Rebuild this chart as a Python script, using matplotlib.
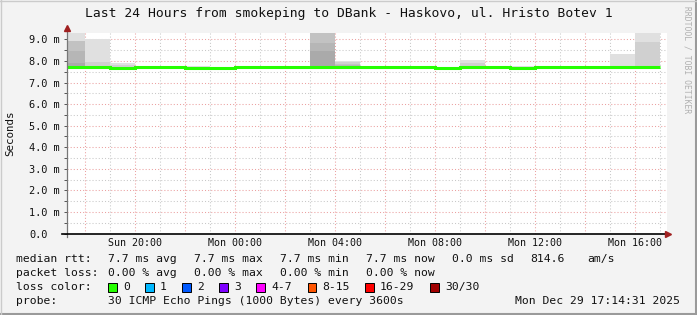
import numpy as np
import matplotlib.pyplot as plt
from matplotlib.patches import Rectangle
from matplotlib.lines import Line2D
from matplotlib.ticker import FixedLocator, FuncFormatter

W, H = 697, 315
MONO = 'DejaVu Sans Mono'
BG = '#f3f3f3'

# time axis: hours since Sun 00:00, graph covers Sun 17:14:31 .. Mon 17:14:31
t_start = 17 + 14 / 60 + 31 / 3600
t_end = t_start + 24
bin_edges = np.arange(17, 42)          # hourly steps (3600s)
label_hours = [20, 24, 28, 32, 36, 40]

# median rtt per hourly bin (ms)
median = [7.72, 7.72, 7.69, 7.72, 7.72, 7.66, 7.69, 7.72, 7.72, 7.73, 7.73, 7.70,
          7.72, 7.72, 7.72, 7.68, 7.72, 7.72, 7.67, 7.71, 7.71, 7.71, 7.71, 7.71]
# smoke envelopes, outermost (lightest) to innermost (darkest), ms
smoke_1 = [9.31, 9.00, 7.92, 7.76, 7.76, 7.75, 7.74, 7.75, 7.75, 7.76, 9.31, 7.98,
           7.75, 7.75, 7.75, 7.74, 8.06, 7.75, 7.76, 7.75, 7.75, 7.75, 8.33, 9.31]
smoke_2 = [8.93, 7.95, 7.80, 7.72, 7.72, 7.66, 7.69, 7.72, 7.72, 7.73, 9.31, 7.95,
           7.72, 7.72, 7.72, 7.68, 7.90, 7.72, 7.67, 7.71, 7.71, 7.71, 7.71, 8.90]
smoke_3 = [8.92, 7.72, 7.69, 7.72, 7.72, 7.66, 7.69, 7.72, 7.72, 7.73, 9.30, 7.88,
           7.72, 7.72, 7.72, 7.68, 7.72, 7.72, 7.67, 7.71, 7.71, 7.71, 7.71, 7.71]
smoke_4 = [8.45, 7.72, 7.69, 7.72, 7.72, 7.66, 7.69, 7.72, 7.72, 7.73, 8.85, 7.82,
           7.72, 7.72, 7.72, 7.68, 7.72, 7.72, 7.67, 7.71, 7.71, 7.71, 7.71, 7.71]
smoke_5 = [7.90, 7.72, 7.69, 7.72, 7.72, 7.66, 7.69, 7.72, 7.72, 7.73, 8.45, 7.72,
           7.72, 7.72, 7.72, 7.68, 7.72, 7.72, 7.67, 7.71, 7.71, 7.71, 7.71, 7.71]
smoke_min = [7.69, 7.69, 7.66, 7.69, 7.69, 7.62, 7.63, 7.69, 7.69, 7.70, 7.70, 7.62,
             7.69, 7.69, 7.69, 7.62, 7.69, 7.69, 7.62, 7.68, 7.68, 7.68, 7.68, 7.68]
smoke_colors = ['#e0e0e0', '#d0d0d0', '#c2c2c2', '#b6b6b6', '#aaaaaa']

loss_labels = ['0', '1', '2', '3', '4-7', '8-15', '16-29', '30/30']
loss_colors = ['#26ff00', '#00b8ff', '#0059ff', '#7e00ff', '#ff00ff',
               '#ff5500', '#ff0000', '#a10000']
loss_xpos = [108, 145, 182, 219, 256, 307.5, 365, 430]

rtt_items = [(108, '7.7 ms avg'), (194, '7.7 ms max'), (280, '7.7 ms min'),
             (366, '7.7 ms now'), (452, '0.0 ms sd'), (530, '814.6'), (587, 'am/s')]
loss_items = [(108, '0.00 % avg'), (194, '0.00 % max'), (280, '0.00 % min'),
              (366, '0.00 % now')]


def fx(x):
    return x / W


def fy(y):
    return 1 - y / H


fig = plt.figure(figsize=(W / 100, H / 100), dpi=100, facecolor=BG)
ax = fig.add_axes([fx(66.5), fy(233.5), 600 / W, 200.8 / H])
ax.set_facecolor('white')
for s in ax.spines.values():
    s.set_visible(False)

ax.set_xlim(t_start, t_end)
ax.set_ylim(0, 9.31)

# grid
ax.xaxis.set_major_locator(FixedLocator(np.arange(18, 42, 2)))
ax.xaxis.set_minor_locator(FixedLocator(np.arange(19, 42, 2)))
ax.yaxis.set_major_locator(FixedLocator(np.arange(0, 10, 1.0)))
ax.yaxis.set_minor_locator(FixedLocator(np.arange(0.5, 9.5, 1.0)))
dots = (0, (1, 2))
ax.grid(which='major', color='#eba0a0', lw=0.75, ls=dots)
ax.grid(which='minor', color='#c8c8c8', lw=0.75, ls=dots)
ax.set_axisbelow(True)


def xfmt(h, pos):
    h = int(round(h))
    if h not in label_hours:
        return ''
    day = 'Sun' if h < 24 else 'Mon'
    return f'{day} {h % 24:02d}:00'


def yfmt(v, pos):
    return '0.0' if v == 0 else f'{v:.1f} m'


ax.xaxis.set_major_formatter(FuncFormatter(xfmt))
ax.yaxis.set_major_formatter(FuncFormatter(yfmt))
ax.tick_params(axis='x', which='both', length=0, pad=3.6, labelsize=7.2,
               labelcolor='#111111')
ax.tick_params(axis='y', which='both', length=2.2, width=0.7, color='#555555',
               pad=24.6, labelsize=7.4, labelcolor='#111111')
for lab in ax.get_xticklabels() + ax.get_yticklabels():
    lab.set_family(MONO)
for lab in ax.get_yticklabels():
    lab.set_horizontalalignment('left')

# smoke
for top, col in zip([smoke_1, smoke_2, smoke_3, smoke_4, smoke_5], smoke_colors):
    ax.stairs(top, bin_edges, baseline=median, fill=True, color=col, lw=0)
ax.stairs(median, bin_edges, baseline=smoke_min, fill=True, color=smoke_colors[0], lw=0)

# median rtt line (loss 0 colour)
ax.stairs(median, bin_edges, baseline=None, color=loss_colors[0], lw=2.2)

# axis lines with arrows
ax.plot([0, 0], [-0.015, 1.015], transform=ax.transAxes, color='#777777',
        lw=0.9, clip_on=False)
ax.plot([-0.007, 1.0], [0, 0], transform=ax.transAxes, color='black',
        lw=1.2, clip_on=False)
ax.plot([0], [1.025], transform=ax.transAxes, marker='^', ms=4.5,
        color='#a02020', clip_on=False)
ax.plot([1.003], [0], transform=ax.transAxes, marker='>', ms=4.5,
        color='#a02020', clip_on=False)

# texts
fig.text(fx(348.5), fy(13), 'Last 24 Hours from smokeping to DBank - Haskovo, ul. Hristo Botev 1',
         family=MONO, fontsize=9.4, ha='center', va='center', color='#111111')
fig.text(fx(10), fy(133), 'Seconds', family=MONO, fontsize=7.8, rotation=90,
         ha='center', va='center', color='#111111')
fig.text(fx(687), fy(60), 'RRDTOOL / TOBI OETIKER', family=MONO, fontsize=5.8,
         rotation=270, ha='center', va='center', color='#b0b0b0')

kw = dict(family=MONO, fontsize=8.2, va='center', color='#111111')
fig.text(fx(16), fy(259), 'median rtt:', **kw)
for x, s in rtt_items:
    fig.text(fx(x), fy(259), s, **kw)
fig.text(fx(16), fy(273), 'packet loss:', **kw)
for x, s in loss_items:
    fig.text(fx(x), fy(273), s, **kw)
fig.text(fx(16), fy(287), 'loss color:', **kw)
for x, lab, col in zip(loss_xpos, loss_labels, loss_colors):
    fig.add_artist(Rectangle((fx(x), fy(291.5)), 8.5 / W, 9 / H, transform=fig.transFigure,
                             facecolor=col, edgecolor='black', lw=0.7))
    fig.text(fx(x + 15), fy(287), lab, **kw)
fig.text(fx(16), fy(301), 'probe:', **kw)
fig.text(fx(108), fy(301), '30 ICMP Echo Pings (1000 Bytes) every 3600s', **kw)
fig.text(fx(680), fy(301), 'Mon Dec 29 17:14:31 2025', ha='right', **kw)

# 3d frame
fig.add_artist(Line2D([0, 1], [fy(314), fy(314)], transform=fig.transFigure,
                      color='#9a9a9a', lw=1.5))
fig.add_artist(Line2D([fx(696), fx(696)], [0, 1], transform=fig.transFigure,
                      color='#9a9a9a', lw=1.5))
fig.add_artist(Line2D([0, 1], [fy(0.5), fy(0.5)], transform=fig.transFigure,
                      color='#cbcbcb', lw=1))
fig.add_artist(Line2D([fx(0.5), fx(0.5)], [0, 1], transform=fig.transFigure,
                      color='#cbcbcb', lw=1))

fig.savefig('out.png', dpi=100, facecolor=BG)
